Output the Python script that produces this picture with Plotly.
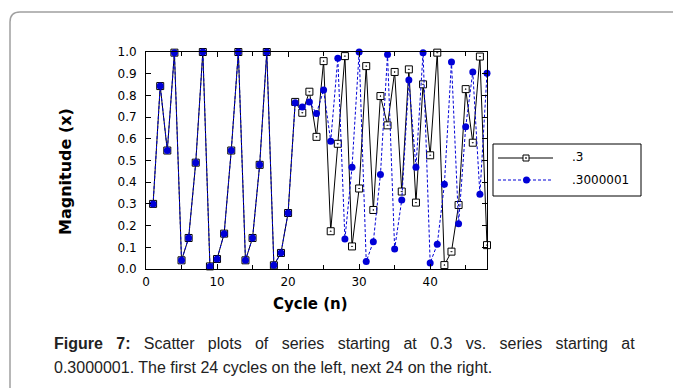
import plotly.graph_objects as go

cycles = list(range(1, 49))
series_03 = [0.300, 0.843, 0.546, 0.997, 0.040, 0.143, 0.490, 1.000, 0.012, 0.046,
             0.163, 0.546, 1.000, 0.040, 0.143, 0.480, 1.000, 0.017, 0.074, 0.258,
             0.770, 0.720, 0.817, 0.609, 0.958, 0.174, 0.577, 0.981, 0.104, 0.371,
             0.935, 0.272, 0.797, 0.662, 0.908, 0.357, 0.920, 0.306, 0.851, 0.524,
             0.997, 0.018, 0.080, 0.295, 0.829, 0.582, 0.979, 0.110]
series_03000001 = [0.300, 0.843, 0.546, 0.997, 0.040, 0.143, 0.490, 1.000, 0.012, 0.046,
                   0.163, 0.546, 1.000, 0.040, 0.143, 0.480, 1.000, 0.017, 0.074, 0.258,
                   0.766, 0.746, 0.770, 0.717, 0.825, 0.589, 0.971, 0.138, 0.469, 1.000,
                   0.034, 0.126, 0.435, 0.988, 0.092, 0.318, 0.871, 0.469, 0.997, 0.028,
                   0.114, 0.390, 0.954, 0.209, 0.655, 0.908, 0.344, 0.902]
x_tickvals = [0, 10, 20, 30, 40]
y_tickvals = [0.0, 0.1, 0.2, 0.3, 0.4, 0.5, 0.6, 0.7, 0.8, 0.9, 1.0]
names = [".3", ".3000001"]

# page body has an 8px margin; work in window pixel coordinates and shift
OFF = 8
W, H = 681 - OFF, 388 - OFF
PL, PR, PT, PB = 146, 487, 52, 269          # plot area in window pixels
L, R, T, B = PL - OFF, 681 - PR, PT - OFF, 388 - PB
PW, PH = PR - PL, PB - PT
BLUE = "rgb(0,0,215)"

def px(X):
    return (X - PL) / PW

def py(Y):
    return (PB - Y) / PH

fig = go.Figure()
fig.add_trace(go.Scatter(
    x=cycles, y=series_03, mode="lines+markers", name=names[0],
    line=dict(color="black", width=1),
    marker=dict(symbol="square-dot", size=7, color="white", line=dict(color="black", width=1)),
    showlegend=False, cliponaxis=False))
fig.add_trace(go.Scatter(
    x=cycles, y=series_03000001, mode="lines+markers", name=names[1],
    line=dict(color=BLUE, width=1, dash="3px,2px"),
    marker=dict(symbol="circle", size=7, color=BLUE, line=dict(width=0)),
    showlegend=False, cliponaxis=False))

axis_common = dict(showgrid=False, zeroline=False, showline=True, linecolor="black",
                   linewidth=1, ticks="inside", ticklen=5, tickcolor="black",
                   mirror="allticks", tickfont=dict(family="DejaVu Sans", size=12, color="black"))
fig.update_xaxes(range=[0, 48], tickvals=x_tickvals, ticktext=[str(v) for v in x_tickvals],
                 minor=dict(dtick=5, tick0=0, ticks="inside", ticklen=4, tickcolor="black"),
                 ticklabelstandoff=2, **axis_common)
fig.update_yaxes(range=[0, 1], tickvals=y_tickvals, ticktext=[f"{v:.1f}" for v in y_tickvals],
                 ticklabelstandoff=6, **axis_common)

shapes = []
# outer rounded frame
shapes.append(dict(type="path", xref="paper", yref="paper",
                   path=f"M {px(10)},{py(400)} L {px(10)},{py(22)} Q {px(10)},{py(12)} {px(20)},{py(12)} L {px(690)},{py(12)}",
                   line=dict(color="#a0a0a0", width=1.5)))
# legend box
shapes.append(dict(type="rect", xref="paper", yref="paper", x0=px(493), x1=px(641), y0=py(144), y1=py(196),
                   line=dict(color="black", width=1), fillcolor="white"))
shapes.append(dict(type="line", xref="paper", yref="paper", x0=px(498), x1=px(553), y0=py(158), y1=py(158),
                   line=dict(color="black", width=1)))
shapes.append(dict(type="rect", xref="paper", yref="paper", x0=px(523), x1=px(529), y0=py(155), y1=py(161),
                   line=dict(color="black", width=1), fillcolor="white"))
shapes.append(dict(type="rect", xref="paper", yref="paper", x0=px(525.5), x1=px(526.5), y0=py(157.5), y1=py(158.5),
                   line=dict(color="black", width=0.5), fillcolor="black"))
shapes.append(dict(type="line", xref="paper", yref="paper", x0=px(498), x1=px(553), y0=py(180), y1=py(180),
                   line=dict(color=BLUE, width=1, dash="3px,2px")))
shapes.append(dict(type="circle", xref="paper", yref="paper", x0=px(523), x1=px(530), y0=py(176.5), y1=py(183.5),
                   line=dict(color=BLUE, width=0), fillcolor=BLUE))

annotations = []
annotations.append(dict(text=names[0], x=px(570), y=py(157), xref="paper", yref="paper",
                        xanchor="left", yanchor="middle", showarrow=False,
                        font=dict(family="DejaVu Sans", size=12, color="black")))
annotations.append(dict(text=names[1], x=px(570), y=py(180), xref="paper", yref="paper",
                        xanchor="left", yanchor="middle", showarrow=False,
                        font=dict(family="DejaVu Sans", size=12, color="black")))
annotations.append(dict(text="Magnitude (x)", x=px(65), y=py(172), xref="paper", yref="paper",
                        textangle=-90, showarrow=False, xanchor="center", yanchor="middle",
                        font=dict(family="DejaVu Sans", size=16, color="black", weight="bold")))
annotations.append(dict(text="Cycle (n)", x=px(310), y=py(304), xref="paper", yref="paper",
                        showarrow=False, xanchor="center", yanchor="middle",
                        font=dict(family="DejaVu Sans", size=15, color="black", weight="bold")))
cap_font = dict(family="Liberation Sans", size=16, color="#222222")
gap = " \u00a0\u00a0"
line1_words = ["<b>Figure</b>", "<b>7:</b>", "Scatter", "plots", "of", "series", "starting", "at",
               "0.3", "vs.", "series", "starting", "at"]
annotations.append(dict(text=gap.join(line1_words),
                        x=px(52), y=py(343), xref="paper", yref="paper", showarrow=False,
                        xanchor="left", yanchor="middle", font=cap_font))
annotations.append(dict(text="0.3000001. The first 24 cycles on the left, next 24 on the right.",
                        x=px(52), y=py(367), xref="paper", yref="paper", showarrow=False,
                        xanchor="left", yanchor="middle", font=cap_font))

fig.update_layout(width=W, height=H, margin=dict(l=L, r=R, t=T, b=B, pad=0),
                  paper_bgcolor="white", plot_bgcolor="white",
                  shapes=shapes, annotations=annotations, showlegend=False)
fig.write_html("out.html")
